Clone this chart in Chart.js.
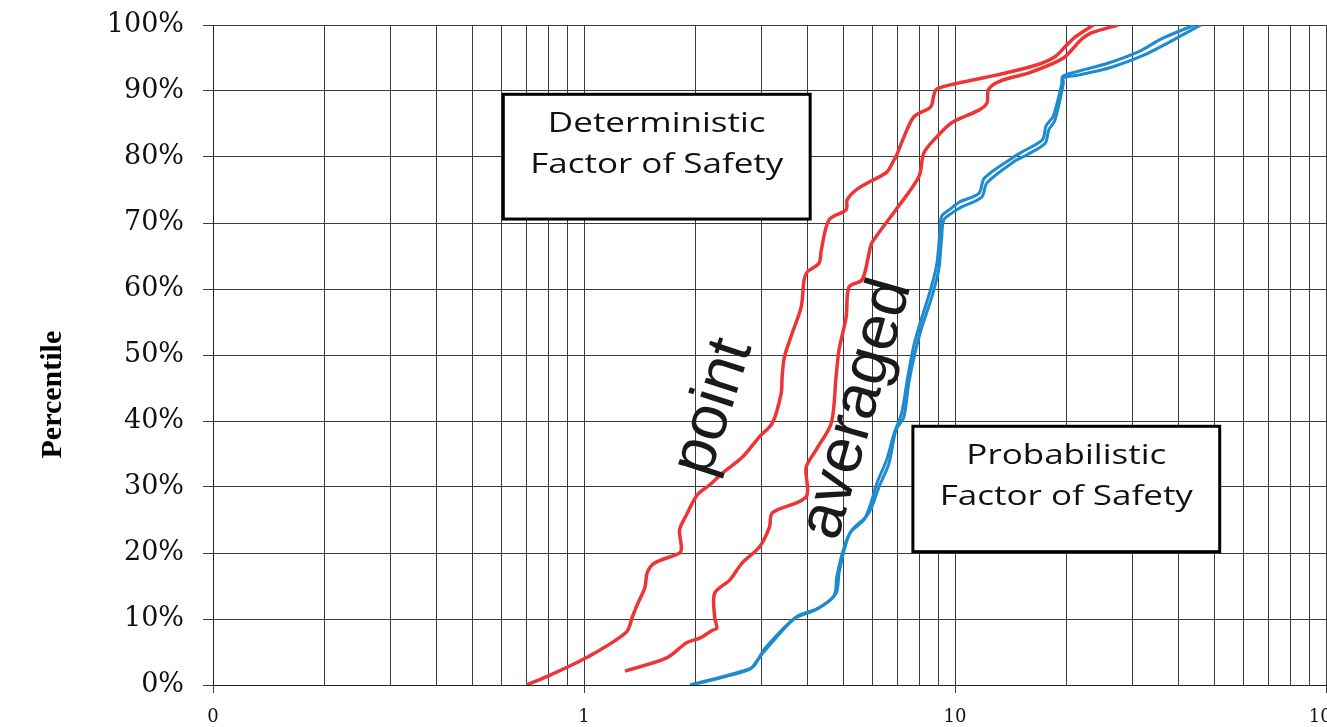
<!DOCTYPE html>
<html>
<head>
<meta charset="utf-8">
<script src="https://cdn.jsdelivr.net/npm/chart.js@4.4.1/dist/chart.umd.min.js"></script>
<style>
  html, body { margin: 0; padding: 0; background: #fff; overflow: hidden; }
  #wrap { width: 1327px; height: 727px; position: relative; }
</style>
</head>
<body>
<div id="wrap"><canvas id="fsChart"></canvas></div>
<script>
// Factor of safety (log scale) against cumulative percentile

// Deterministic FS, point values
const pointFS  = [0.70,0.81,1.02,1.30,1.35,1.39,1.46,1.48,1.55,1.81,1.83,1.81,1.89,2.02,2.18,2.36,2.67,2.97,3.22,3.40,3.42,3.47,3.64,3.85,3.92,4.00,4.30,4.36,4.58,5.09,5.12,5.41,5.87,6.55,6.84,6.93,7.28,7.75,8.60,8.77,8.93,10.2,12.9,16.5,18.6,19.8,21.1,23.6];
const pointPct = [0,1.5,4.2,8.0,10.3,12.1,14.8,17.0,18.5,20.0,20.9,23.5,25.8,28.8,30.3,32.1,34.5,37.6,39.7,44.2,46.7,49.7,53.3,57.3,61.4,62.6,63.9,65.9,70.5,72.0,73.5,75.0,76.2,77.7,79.5,80.0,83.0,86.1,87.6,89.4,90.3,91.2,92.4,93.9,95.2,96.7,98.2,100];

// Deterministic FS, averaged values
const averagedFS  = [1.29,1.67,1.89,2.05,2.22,2.28,2.25,2.25,2.47,2.67,2.97,3.16,3.22,3.97,3.97,4.22,4.64,4.78,4.87,5.09,5.18,5.62,5.87,5.97,6.93,7.99,8.24,8.88,9.80,11.6,12.2,12.3,13.1,16.1,19.6,21.8,23.3,27.5];
const averagedPct = [2.1,4.1,6.4,7.1,8.3,8.6,10.3,13.9,15.9,18.5,20.9,23.9,26.1,28.5,33.0,35.6,39.7,46.7,50.8,55.8,60.3,61.4,65.5,67.0,72.0,77.0,80.6,82.9,85.2,87.1,88.2,90.2,91.4,92.9,95.0,97.7,98.8,100];

// Probabilistic FS, two runs
const probAFS  = [1.93,2.83,2.97,3.03,3.73,4.30,4.78,4.87,5.09,5.28,5.76,5.97,6.24,6.64,6.93,7.28,7.51,7.84,8.14,8.66,9.04,9.21,9.33,9.80,10.4,11.8,12.2,14.6,15.6,17.5,17.9,18.6,19.6,19.6,21.5,26.4,32.5,37.5,46.0];
const probAPct = [0,2.6,4.1,4.8,10.3,11.7,13.9,17.0,21.5,23.5,25.5,27.0,30.0,33.6,38.6,40.6,45.8,50.8,54.2,58.8,62.9,67.9,70.5,71.5,72.4,73.9,76.1,79.5,80.3,82.1,84.1,85.6,91.2,92.0,92.4,93.6,95.5,97.3,100];
const probBFS  = [1.95,2.78,2.92,3.08,3.68,4.22,4.72,4.80,5.02,5.22,5.68,5.92,6.16,6.56,6.84,7.18,7.44,7.74,8.06,8.54,8.92,9.10,9.20,9.70,10.3,11.6,12.0,14.3,15.3,17.2,17.6,18.4,19.4,19.5,21.2,25.8,31.4,36.0,44.2];
const probBPct = [0,2.3,3.6,5.6,10.0,11.4,13.5,16.4,20.8,23.1,25.0,27.4,30.6,34.3,38.0,41.2,46.3,51.4,54.9,59.4,63.6,68.4,71.0,72.1,73.2,74.5,76.8,79.9,80.9,82.6,84.7,86.2,91.1,92.2,92.9,94.2,96.0,97.9,100];

// Axis ticks
const xGridValues = [0.1,0.2,0.3,0.4,0.5,0.6,0.7,0.8,0.9,1,2,3,4,5,6,7,8,9,10,20,30,40,50,60,70,80,90,100];
const xTickValues = [0.1, 1, 10, 100];
const xTickText   = ['0', '1', '10', '100'];
const yTickValues = [0,10,20,30,40,50,60,70,80,90,100];

const zip = (xs, ys) => xs.map((x, i) => ({ x: x, y: ys[i] }));

const RED = '#EE3535';
const BLUE = '#1E8BCF';
const GRID = '#3c3c3c';

// Callout boxes and curve tags, placed in data coordinates
const calloutBoxes = [
  { lines: ['Deterministic', 'Factor of Safety'], x0: 0.606, x1: 4.07, yTop: 89.5, yBottom: 70.6 },
  { lines: ['Probabilistic', 'Factor of Safety'], x0: 7.70, x1: 51.7, yTop: 39.2, yBottom: 20.2 }
];
const curveTags = [
  { text: 'point',    x: 2.235, y: 42.1, angle: -72, size: 64 },
  { text: 'averaged', x: 5.445, y: 41.8, angle: -74, size: 64 }
];

const notesPlugin = {
  id: 'notes',
  afterDatasetsDraw(chart) {
    const { ctx, scales: { x, y } } = chart;
    ctx.save();
    // boxed captions
    calloutBoxes.forEach(b => {
      const left = x.getPixelForValue(b.x0), right = x.getPixelForValue(b.x1);
      const top = y.getPixelForValue(b.yTop), bottom = y.getPixelForValue(b.yBottom);
      ctx.fillStyle = '#fff';
      ctx.fillRect(left, top, right - left, bottom - top);
      ctx.lineWidth = 3;
      ctx.strokeStyle = '#000';
      ctx.strokeRect(left, top, right - left, bottom - top);
      ctx.fillStyle = '#111';
      ctx.font = '28px "Open Sans"';
      ctx.textAlign = 'center';
      ctx.textBaseline = 'alphabetic';
      const cx = (left + right) / 2;
      b.lines.forEach((line, i) => {
        ctx.save();
        ctx.translate(cx, top + 38 + i * 41);
        ctx.scale(1.25, 1);
        ctx.fillText(line, 0, 0);
        ctx.restore();
      });
    });
    // rotated curve names
    curveTags.forEach(t => {
      ctx.save();
      ctx.translate(x.getPixelForValue(t.x), y.getPixelForValue(t.y));
      ctx.rotate(t.angle * Math.PI / 180);
      ctx.fillStyle = '#1a1a1a';
      ctx.font = t.size + 'px "Liberation Sans"';
      ctx.textAlign = 'center';
      ctx.textBaseline = 'middle';
      ctx.fillText(t.text, 0, 0);
      ctx.restore();
    });
    ctx.restore();
  },
  afterDraw(chart) {
    // y axis title
    const { ctx, scales: { y } } = chart;
    ctx.save();
    ctx.translate(53, y.getPixelForValue(44));
    ctx.rotate(-Math.PI / 2);
    ctx.fillStyle = '#000';
    ctx.font = 'bold 30px "Liberation Serif"';
    ctx.textAlign = 'center';
    ctx.textBaseline = 'middle';
    ctx.fillText('Percentile', 0, 0);
    ctx.restore();
  }
};

const lineStyle = (color, width) => ({
  borderColor: color, backgroundColor: color, borderWidth: width,
  pointRadius: 0, pointHoverRadius: 0, tension: 0.3, fill: false
});

new Chart(document.getElementById('fsChart'), {
  type: 'line',
  data: {
    datasets: [
      Object.assign({ label: 'Probabilistic B', data: zip(probBFS, probBPct) }, lineStyle(BLUE, 3)),
      Object.assign({ label: 'Probabilistic A', data: zip(probAFS, probAPct) }, lineStyle(BLUE, 3)),
      Object.assign({ label: 'averaged', data: zip(averagedFS, averagedPct) }, lineStyle(RED, 3.5)),
      Object.assign({ label: 'point', data: zip(pointFS, pointPct) }, lineStyle(RED, 3.5))
    ]
  },
  options: {
    responsive: true,
    maintainAspectRatio: false,
    animation: false,
    layout: { padding: { top: 25, right: 1, bottom: 0, left: 0 } },
    plugins: { legend: { display: false }, tooltip: { enabled: false } },
    scales: {
      x: {
        type: 'logarithmic',
        min: 0.1, max: 100,
        afterBuildTicks(s) { s.ticks = xGridValues.map(v => ({ value: v })); },
        afterFit(s) { s.height = 42; s.paddingLeft = 0; s.paddingRight = 0; },
        ticks: {
          autoSkip: false, maxRotation: 0, minRotation: 0,
          callback(v) { const i = xTickValues.indexOf(v); return i >= 0 ? xTickText[i] : ''; },
          font: { family: 'DejaVu Serif', size: 18 }, color: '#111', padding: 14
        },
        grid: {
          color: GRID, lineWidth: 1, tickLength: 8,
          tickColor: c => (c.tick && xTickValues.indexOf(c.tick.value) >= 0) ? GRID : 'rgba(0,0,0,0)'
        },
        border: { color: '#222', width: 1 }
      },
      y: {
        min: 0, max: 100,
        afterBuildTicks(s) { s.ticks = yTickValues.map(v => ({ value: v })); },
        afterFit(s) { s.width = 213; s.paddingTop = 0; s.paddingBottom = 0; },
        ticks: {
          callback: v => v + '%',
          font: { family: 'DejaVu Serif', size: 27 }, color: '#111', padding: 19
        },
        grid: { color: GRID, lineWidth: 1, tickLength: 10, tickColor: GRID },
        border: { color: '#222', width: 1 }
      }
    }
  },
  plugins: [notesPlugin]
});
</script>
</body>
</html>
